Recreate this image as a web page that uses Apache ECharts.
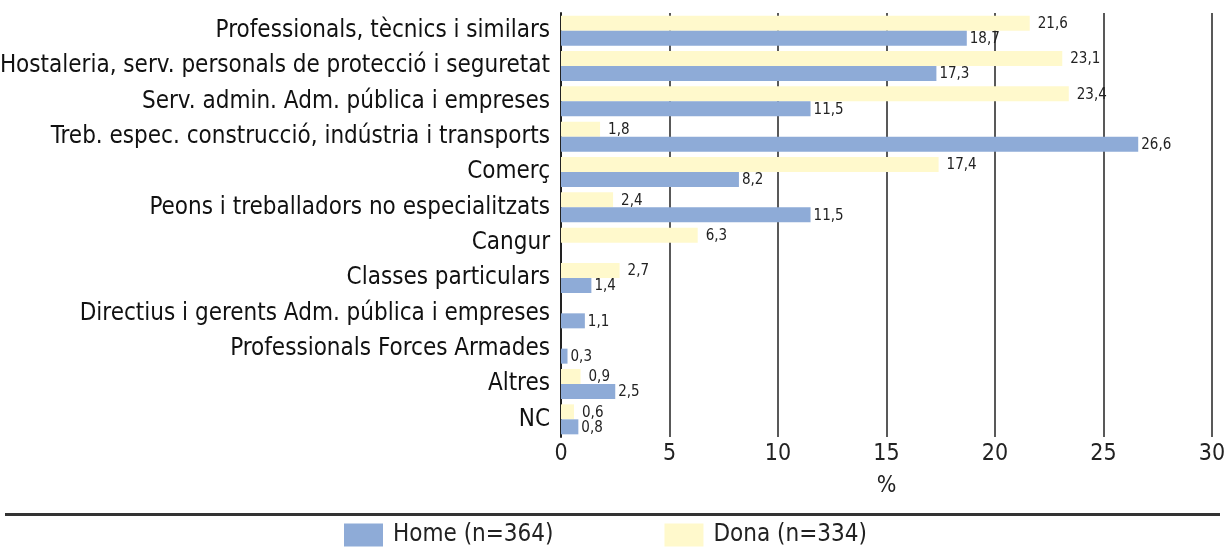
<!DOCTYPE html>
<html>
<head>
<meta charset="utf-8">
<script src="https://cdn.jsdelivr.net/npm/echarts@6/dist/echarts.min.js"></script>
<style>
  html, body { margin: 0; padding: 0; background: #fff; }
  #chart { width: 1225px; height: 552px; }
</style>
</head>
<body>
<div id="chart"></div>
<script>
var categories = [
  'Professionals, tècnics i similars',
  'Hostaleria, serv. personals de protecció i seguretat',
  'Serv. admin. Adm. pública i empreses',
  'Treb. espec. construcció, indústria i transports',
  'Comerç',
  'Peons i treballadors no especialitzats',
  'Cangur',
  'Classes particulars',
  'Directius i gerents Adm. pública i empreses',
  'Professionals Forces Armades',
  'Altres',
  'NC'
];
var home = [18.7, 17.3, 11.5, 26.6, 8.2, 11.5, null, 1.4, 1.1, 0.3, 2.5, 0.8];
var dona = [21.6, 23.1, 23.4, 1.8, 17.4, 2.4, 6.3, 2.7, null, null, 0.9, 0.6];
var homeName = 'Home (n=364)';
var donaName = 'Dona (n=334)';

var FONT = '"Liberation Sans Narrow", "DejaVu Sans Condensed", sans-serif';

function fmt(p) {
  return String(p.value).replace('.', ',');
}

var chart = echarts.init(document.getElementById('chart'));
var option = {
  animation: false,
  textStyle: { fontFamily: FONT },
  grid: { left: 561, right: 13, top: 13, bottom: 115, outerBoundsMode: 'none', containLabel: false },
  legend: {
    data: [homeName, donaName],
    bottom: 0,
    left: 339,
    itemWidth: 39,
    itemHeight: 23,
    itemGap: 111,
    icon: 'rect',
    textStyle: { fontFamily: FONT, fontSize: 24, color: '#222', padding: [0, 0, 0, 5] }
  },
  graphic: [{
    type: 'rect',
    shape: { x: 5, y: 513, width: 1215, height: 3 },
    style: { fill: '#333' }
  }],
  xAxis: {
    type: 'value',
    min: 0,
    max: 30,
    interval: 5,
    name: '%',
    nameLocation: 'middle',
    nameGap: 38,
    nameTextStyle: { fontFamily: FONT, fontSize: 23, color: '#222' },
    axisLine: { show: false },
    axisTick: { show: false },
    axisLabel: { fontFamily: FONT, fontSize: 23, color: '#222', margin: 6 },
    splitLine: { show: true, lineStyle: { color: '#222', width: 1.5 } }
  },
  yAxis: {
    type: 'category',
    inverse: true,
    data: categories,
    axisLine: { show: true, lineStyle: { color: '#222', width: 2 } },
    axisTick: { show: false },
    axisLabel: { fontFamily: FONT, fontSize: 24, color: '#111', margin: 11 }
  },
  series: [
    {
      name: donaName,
      type: 'bar',
      data: dona,
      barWidth: 15,
      barGap: '0%',
      itemStyle: { color: '#fff9cc' },
      label: {
        show: true, position: 'right', distance: 8, offset: [0, 1],
        fontFamily: FONT, fontSize: 15, color: '#222', formatter: fmt
      }
    },
    {
      name: homeName,
      type: 'bar',
      data: home,
      barWidth: 15,
      barGap: '0%',
      itemStyle: { color: '#8eabd7' },
      label: {
        show: true, position: 'right', distance: 3, offset: [0, 1],
        fontFamily: FONT, fontSize: 15, color: '#222', formatter: fmt
      }
    }
  ]
};
chart.setOption(option);
</script>
</body>
</html>
